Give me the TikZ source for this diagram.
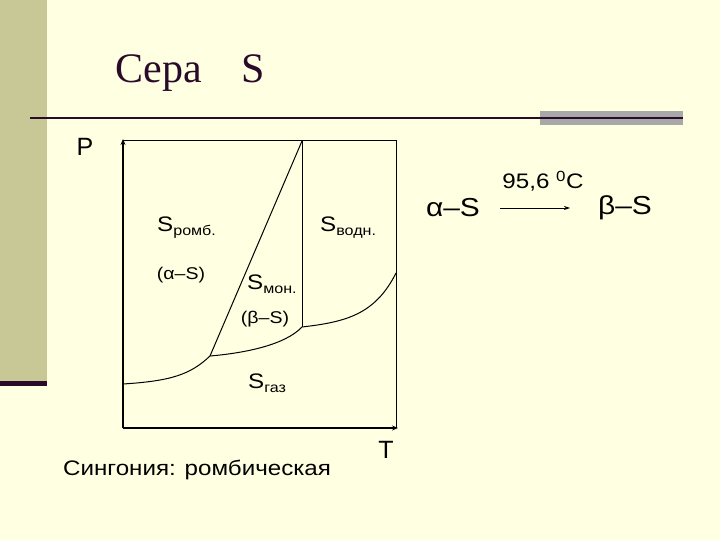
\documentclass[tikz,border=0pt]{standalone}
\usepackage{fontspec}
\setmainfont{Liberation Sans}[FakeStretch=1.15]
\newfontfamily\plainsans{Liberation Sans}
\newfontfamily\titlefont{Liberation Serif}
\usetikzlibrary{arrows.meta}
\definecolor{bg}{HTML}{FFFFE1}
\definecolor{strip}{HTML}{C8C896}
\definecolor{darkline}{HTML}{2A0A2A}
\definecolor{greybar}{HTML}{A8A8A8}
\begin{document}
\begin{tikzpicture}[x=1pt,y=-1pt,
  curve/.style={line width=1pt,black},
  axis/.style={line width=2.6pt,black,-{Stealth[length=6pt,width=5pt]}},
  lbl/.style={inner sep=0pt,font=\fontsize{21}{24}\selectfont},
  axlbl/.style={inner sep=0pt,font=\plainsans\fontsize{25}{28}\selectfont},
  sub/.style={inner sep=0pt,font=\fontsize{17}{20}\selectfont}]
\useasboundingbox (0,0) rectangle (720,540);
\fill[bg] (0,0) rectangle (720,540);
\fill[strip] (0,0) rectangle (47,381);
\fill[darkline] (0,381) rectangle (47,386);
% title
\node[anchor=base west,inner sep=0pt,font=\titlefont\fontsize{42}{45}\selectfont,text=darkline] (title) at (115,83) {Сера\hspace{0.95em}S};
\fill[greybar] (540,111) rectangle (683,125);
\draw[line width=2pt,darkline] (30,118) -- (683,118);
% coordinates
\coordinate (o) at (123,428);
\coordinate (ptop) at (123,139);
\coordinate (tend) at (398,428);
\coordinate (tl) at (302,141);
\coordinate (tr) at (396,141);
\coordinate (br) at (396,428);
\coordinate (trip1) at (210,356);
\coordinate (trip2) at (302,327);
\coordinate (l0) at (123,384);
\coordinate (r0) at (396,273);
% box lines
\draw[curve] (123,141) -- (tr) -- (br);
\draw[curve] (tl) -- (trip2);
\draw[curve] (tl) -- (trip1);
\draw[curve] (l0) .. controls (170,381) and (190,375) .. (trip1);
\draw[curve] (trip1) .. controls (245,353) and (285,345) .. (trip2);
\draw[curve] (trip2) .. controls (345,322) and (375,315) .. (r0);
% axes
\draw[axis] (o) -- (ptop);
\draw[axis] (o) -- (tend);
\node[axlbl,anchor=center] (P) at (85,147) {P};
\node[axlbl,anchor=center] (T) at (386,450) {T};
% region labels
\node[lbl,anchor=west] (s1) at (157,228) {S\raisebox{-0.35ex}{\fontsize{14}{16}\selectfont ромб.}};
\node[sub,anchor=center] (s1b) at (181,275) {(α–S)};
\node[lbl,anchor=west] (s2) at (320,228) {S\raisebox{-0.35ex}{\fontsize{14}{16}\selectfont водн.}};
\node[lbl,anchor=west] (s3) at (247,284) {S\raisebox{-0.35ex}{\fontsize{14}{16}\selectfont мон.}};
\node[sub,anchor=center] (s3b) at (265,319) {(β–S)};
\node[lbl,anchor=west] (s4) at (248,383) {S\raisebox{-0.35ex}{\fontsize{14}{16}\selectfont газ}};
\node[anchor=base west,inner sep=0pt,font=\fontsize{21}{24}\selectfont] (syn) at (63,475) {Сингония: ромбическая};
% reaction
\node[anchor=center,inner sep=0pt,font=\fontsize{26}{30}\selectfont] (alpha) at (453,208) {α–S};
\node[anchor=center,inner sep=0pt,font=\fontsize{26}{30}\selectfont] (beta) at (625,208) {β–S};
\coordinate (a1) at (500,208);
\coordinate (a2) at (570,208);
\draw[line width=0.8pt,-{Stealth[length=6pt,width=4pt]}] (a1) -- (a2);
\node[anchor=center,inner sep=0pt,font=\fontsize{21}{24}\selectfont] (temp) at (543,181) {95,6 \textsuperscript{0}C};
\end{tikzpicture}
\end{document}
